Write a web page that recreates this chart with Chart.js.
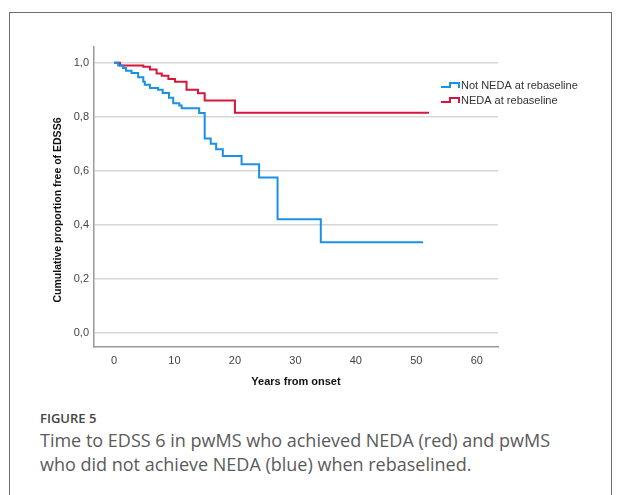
<!DOCTYPE html>
<html>
<head>
<meta charset="utf-8">
<script src="https://cdn.jsdelivr.net/npm/chart.js@4.4.0/dist/chart.umd.min.js"></script>
<style>
html,body{margin:0;padding:0;background:#fff;width:617px;height:495px;overflow:hidden;}
.frame{position:absolute;left:9px;top:12px;width:601px;height:500px;border:1px solid #6e6e6e;}
#wrap{position:absolute;left:0;top:0;width:617px;height:400px;}
.fig{position:absolute;left:40px;top:409px;font-family:'Open Sans';font-size:13px;font-weight:600;color:#444;}
.cap{position:absolute;left:40px;top:428px;font-family:'Open Sans';font-size:18px;line-height:24px;color:#5a5a5a;width:570px;}
</style>
</head>
<body>
<div class="frame"></div>
<div id="wrap"><canvas id="myChart"></canvas></div>
<div class="fig">FIGURE 5</div>
<div class="cap">Time to EDSS 6 in pwMS who achieved NEDA (red) and pwMS<br>who did not achieve NEDA (blue) when rebaselined.</div>
<script>
var xTicks = [0, 10, 20, 30, 40, 50, 60];
var yTicks = [0, 0.2, 0.4, 0.6, 0.8, 1.0];
var yTickLabels = ['0,0', '0,2', '0,4', '0,6', '0,8', '1,0'];

// Kaplan-Meier steps
var notNedaYears = [0, 0.7, 1.5, 2.0, 2.9, 4.0, 4.85, 5.1, 5.95, 7.3, 8.05, 9.1, 9.8, 10.8, 11.2, 14.1, 15.0, 16.0, 16.9, 18.0, 21.1, 24.0, 27.05, 34.2, 51.1];
var notNedaSurv  = [1.0, 0.99, 0.98, 0.97, 0.962, 0.946, 0.93, 0.918, 0.906, 0.90, 0.888, 0.87, 0.85, 0.842, 0.832, 0.814, 0.72, 0.70, 0.68, 0.655, 0.625, 0.576, 0.421, 0.336, 0.336];
var nedaYears = [0, 1.0, 4.85, 5.95, 7.05, 7.9, 9.0, 10.1, 12.0, 13.9, 15.0, 20.0, 52.1];
var nedaSurv  = [1.0, 0.99, 0.985, 0.975, 0.96, 0.952, 0.94, 0.93, 0.90, 0.887, 0.86, 0.815, 0.815];

var seriesNames = ['Not NEDA at rebaseline', 'NEDA at rebaseline'];
var seriesColors = ['#1b90e6', '#d6163c'];
var xTitle = 'Years from onset';
var yTitle = 'Cumulative proportion free of EDSS6';

function pairs(xs, ys) {
  var out = [];
  for (var i = 0; i < xs.length; i++) out.push({x: xs[i], y: ys[i]});
  return out;
}

var extras = {
  id: 'extras',
  afterDraw: function(chart) {
    var ctx = chart.ctx;
    var a = chart.chartArea;
    ctx.save();
    ctx.fillStyle = '#111';
    ctx.font = 'bold 11px "Liberation Sans", Arial';
    ctx.textAlign = 'center';
    ctx.textBaseline = 'middle';
    ctx.fillText(xTitle, (a.left + a.right) / 2, 382);
    ctx.translate(58, 210);
    ctx.rotate(-Math.PI / 2);
    ctx.font = 'bold 10.5px "Liberation Sans", Arial';
    ctx.fillText(yTitle, 0, 0);
    ctx.restore();

    // legend with step symbols
    ctx.save();
    ctx.font = '11px "Liberation Sans", Arial';
    ctx.textAlign = 'left';
    ctx.textBaseline = 'middle';
    for (var i = 0; i < seriesNames.length; i++) {
      var y = 86 + i * 15;
      ctx.strokeStyle = seriesColors[i];
      ctx.lineWidth = 2;
      ctx.beginPath();
      ctx.moveTo(441, y + 1);
      ctx.lineTo(450, y + 1);
      ctx.lineTo(450, y - 3);
      ctx.lineTo(459, y - 3);
      ctx.lineTo(459, y + 2);
      ctx.stroke();
      ctx.fillStyle = '#333';
      ctx.fillText(seriesNames[i], 461, y);
    }
    ctx.restore();
  }
};

var ctx = document.getElementById('myChart').getContext('2d');
var myChart = new Chart(ctx, {
  type: 'line',
  data: {
    datasets: [{
      label: seriesNames[0],
      data: pairs(notNedaYears, notNedaSurv),
      borderColor: seriesColors[0],
      borderWidth: 2,
      stepped: true,
      pointRadius: 0,
      fill: false
    }, {
      label: seriesNames[1],
      data: pairs(nedaYears, nedaSurv),
      borderColor: seriesColors[1],
      borderWidth: 2,
      stepped: true,
      pointRadius: 0,
      fill: false
    }]
  },
  options: {
    responsive: true,
    maintainAspectRatio: false,
    animation: false,
    layout: { padding: { left: 0, top: 47, right: 119, bottom: 0 } },
    plugins: {
      legend: { display: false },
      tooltip: { enabled: false }
    },
    scales: {
      x: {
        type: 'linear',
        min: -3.3,
        max: 63.5,
        afterBuildTicks: function(scale) {
          scale.ticks = xTicks.map(function(v) { return {value: v}; });
        },
        afterFit: function(scale) { scale.height = 53; },
        grid: { display: false, drawTicks: false },
        border: { display: true, color: '#9a9a9a', width: 1.5 },
        ticks: {
          autoSkip: false,
          maxRotation: 0,
          padding: 7,
          color: '#444',
          font: { family: '"Liberation Sans", Arial', size: 11 },
          callback: function(v) { return String(v); }
        }
      },
      y: {
        type: 'linear',
        min: -0.051,
        max: 1.058,
        afterBuildTicks: function(scale) {
          scale.ticks = yTicks.map(function(v) { return {value: v}; });
        },
        afterFit: function(scale) { scale.width = 94; },
        grid: { color: '#d6d6d6', lineWidth: 1.5, drawTicks: false },
        border: { display: true, color: '#9a9a9a', width: 1.5 },
        ticks: {
          autoSkip: false,
          padding: 5,
          color: '#444',
          font: { family: '"Liberation Sans", Arial', size: 11 },
          callback: function(v) {
            var i = yTicks.indexOf(v);
            return i >= 0 ? yTickLabels[i] : '';
          }
        }
      }
    }
  },
  plugins: [extras]
});
</script>
</body>
</html>
